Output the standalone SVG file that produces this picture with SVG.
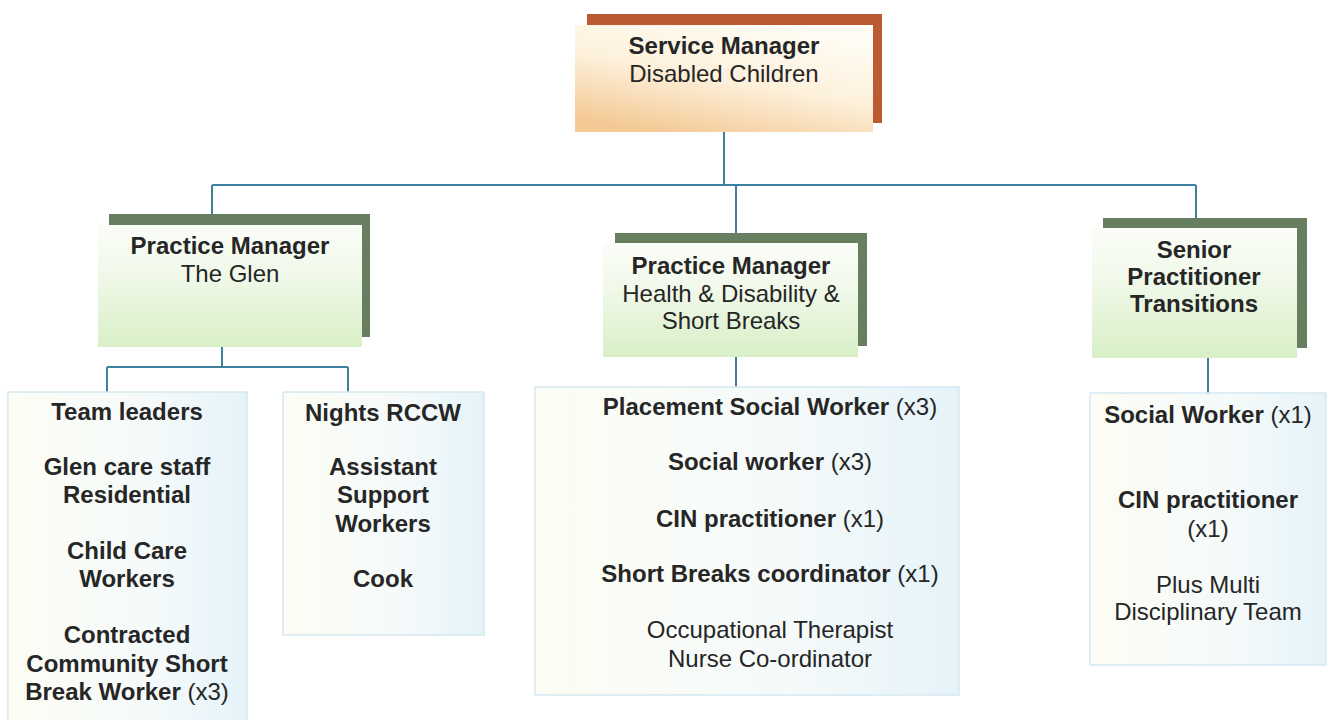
<svg xmlns="http://www.w3.org/2000/svg" width="1331" height="720" viewBox="0 0 1331 720">
<defs>
<linearGradient id="gOrange" x1="0.75" y1="0" x2="0.25" y2="1">
<stop offset="0" stop-color="#fffdf6"/>
<stop offset="0.5" stop-color="#fdf1dc"/>
<stop offset="1" stop-color="#f4c995"/>
</linearGradient>
<linearGradient id="gGreen" x1="0" y1="0" x2="0" y2="1">
<stop offset="0" stop-color="#fbfdf8"/>
<stop offset="0.4" stop-color="#f1f9ea"/>
<stop offset="1" stop-color="#d8efc7"/>
</linearGradient>
<linearGradient id="gBlue" x1="0" y1="0" x2="1" y2="0">
<stop offset="0" stop-color="#fcfdf4"/>
<stop offset="0.6" stop-color="#f5fafa"/>
<stop offset="1" stop-color="#e5f3f9"/>
</linearGradient>
</defs>
<style>
text{font-family:"Liberation Sans",Arial,sans-serif;font-size:24px;fill:#262626;text-anchor:middle}
.b{font-weight:bold}
.shO{fill:#bc5a33}
.shG{fill:#687e60}
.frO{fill:url(#gOrange)}
.frG{fill:url(#gGreen)}
.lst{fill:url(#gBlue);stroke:#d3e9f1;stroke-width:1.5}
.con{fill:none;stroke:#3d80a0;stroke-width:2}
</style>
<rect width="1331" height="720" fill="#ffffff"/>
<g id="connectors">
<path class="con" d="M724 132V185M212 185H1196M212 185V215M736 185V233M1196 185V218"/>
<path class="con" d="M222 347V367M107 367H348M107 367V392M348 367V392"/>
<path class="con" d="M736 357V387"/>
<path class="con" d="M1208 358V393"/>
</g>
<g id="service-manager">
<rect class="shO" x="587" y="14" width="295" height="109"/>
<rect class="frO" x="575" y="25" width="298" height="107"/>
<text x="724" y="54" class="b">Service Manager</text>
<text x="724" y="82">Disabled Children</text>
</g>
<g id="pm-glen">
<rect class="shG" x="109" y="214" width="261" height="123"/>
<rect class="frG" x="98" y="225" width="264" height="122"/>
<text x="230" y="254" class="b">Practice Manager</text>
<text x="230" y="282">The Glen</text>
</g>
<g id="pm-health">
<rect class="shG" x="615" y="233" width="252" height="113"/>
<rect class="frG" x="603" y="243" width="255" height="114"/>
<text x="731" y="274" class="b">Practice Manager</text>
<text x="731" y="302">Health &amp; Disability &amp;</text>
<text x="731" y="329">Short Breaks</text>
</g>
<g id="senior-practitioner">
<rect class="shG" x="1103" y="218" width="204" height="130"/>
<rect class="frG" x="1092" y="228" width="205" height="130"/>
<text x="1194" y="258" class="b">Senior</text>
<text x="1194" y="285" class="b">Practitioner</text>
<text x="1194" y="312" class="b">Transitions</text>
</g>
<g id="glen-staff">
<rect class="lst" x="8" y="392" width="239" height="335"/>
<text x="127" y="420" class="b">Team leaders</text>
<text x="127" y="475" class="b">Glen care staff</text>
<text x="127" y="503" class="b">Residential</text>
<text x="127" y="559" class="b">Child Care</text>
<text x="127" y="587" class="b">Workers</text>
<text x="127" y="643" class="b">Contracted</text>
<text x="127" y="672" class="b">Community Short</text>
<text x="127" y="700"><tspan class="b">Break Worker</tspan> (x3)</text>
</g>
<g id="nights-staff">
<rect class="lst" x="283" y="392" width="201" height="243"/>
<text x="383" y="421" class="b">Nights RCCW</text>
<text x="383" y="475" class="b">Assistant</text>
<text x="383" y="503" class="b">Support</text>
<text x="383" y="532" class="b">Workers</text>
<text x="383" y="587" class="b">Cook</text>
</g>
<g id="health-staff">
<rect class="lst" x="535" y="387" width="424" height="308"/>
<text x="770" y="415"><tspan class="b">Placement Social Worker</tspan> (x3)</text>
<text x="770" y="470"><tspan class="b">Social worker</tspan> (x3)</text>
<text x="770" y="527"><tspan class="b">CIN practitioner</tspan> (x1)</text>
<text x="770" y="582"><tspan class="b">Short Breaks coordinator</tspan> (x1)</text>
<text x="770" y="638">Occupational Therapist</text>
<text x="770" y="667">Nurse Co-ordinator</text>
</g>
<g id="transitions-staff">
<rect class="lst" x="1090" y="393" width="236" height="272"/>
<text x="1208" y="423"><tspan class="b">Social Worker</tspan> (x1)</text>
<text x="1208" y="508" class="b">CIN practitioner</text>
<text x="1208" y="537">(x1)</text>
<text x="1208" y="593">Plus Multi</text>
<text x="1208" y="620">Disciplinary Team</text>
</g>
</svg>
